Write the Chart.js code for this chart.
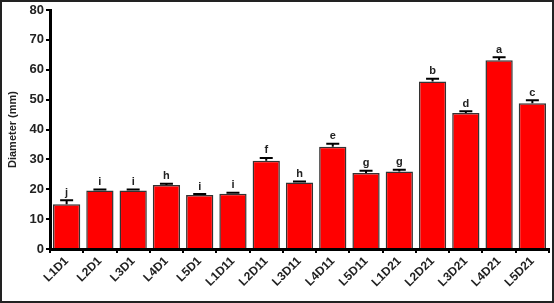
<!DOCTYPE html>
<html>
<head>
<meta charset="utf-8">
<script src="https://cdn.jsdelivr.net/npm/chart.js@4.4.1/dist/chart.umd.min.js"></script>
<style>
  html, body { margin: 0; padding: 0; background: #fff; }
  #wrap { width: 554px; height: 303px; position: relative; }
</style>
</head>
<body>
<div id="wrap"><canvas id="chartDiameter" width="554" height="303"></canvas></div>
<script>
// data
const labels = ['L1D1', 'L2D1', 'L3D1', 'L4D1', 'L5D1', 'L1D11', 'L2D11', 'L3D11', 'L4D11', 'L5D11', 'L1D21', 'L2D21', 'L3D21', 'L4D21', 'L5D21'];
const diameter = [15, 19.6, 19.6, 21.4, 18.1, 18.5, 29.5, 22.3, 34.2, 25.4, 25.9, 56.1, 45.5, 63.2, 48.8];
const errors = [1.3, 0.3, 0.3, 0.4, 0.3, 0.3, 1.0, 0.3, 1.0, 0.8, 0.6, 0.9, 0.6, 1.0, 1.0];
const letters = ['j', 'i', 'i', 'h', 'i', 'i', 'f', 'h', 'e', 'g', 'g', 'b', 'd', 'a', 'c'];
const yTicks = [0, 10, 20, 30, 40, 50, 60, 70, 80];

const FONT = '"Liberation Sans", Arial, sans-serif';

// error bars + significance letters
const errorBarPlugin = {
    id: 'errorBars',
    afterDatasetsDraw(chart) {
        const ctx = chart.ctx;
        const y = chart.scales.y;
        const meta = chart.getDatasetMeta(0);
        ctx.save();
        ctx.strokeStyle = '#000';
        ctx.lineWidth = 2;
        meta.data.forEach(function (bar, i) {
            const yv = y.getPixelForValue(diameter[i]);
            const yt = y.getPixelForValue(diameter[i] + errors[i]);
            ctx.beginPath();
            ctx.moveTo(bar.x, yv);
            ctx.lineTo(bar.x, yt);
            ctx.moveTo(bar.x - 6.5, yt);
            ctx.lineTo(bar.x + 6.5, yt);
            ctx.stroke();
            ctx.fillStyle = '#222';
            ctx.font = 'bold 11px ' + FONT;
            ctx.textAlign = 'center';
            ctx.textBaseline = 'bottom';
            ctx.fillText(letters[i], bar.x, yt - 2);
        });
        ctx.restore();
    },
    afterDraw(chart) {
        // dark frame round the picture
        const ctx = chart.ctx;
        ctx.save();
        ctx.strokeStyle = '#222';
        ctx.lineWidth = 2;
        ctx.strokeRect(1, 1, chart.width - 2, chart.height - 2);
        ctx.restore();
    }
};

new Chart(document.getElementById('chartDiameter'), {
    type: 'bar',
    data: {
        labels: labels,
        datasets: [{
            label: 'Diameter',
            data: diameter,
            backgroundColor: '#ff0000',
            borderColor: '#333',
            borderWidth: 1.5,
            barPercentage: 0.82,
            categoryPercentage: 1
        }]
    },
    options: {
        responsive: false,
        animation: false,
        layout: { padding: { top: 10, right: 5, left: 0, bottom: 0 } },
        plugins: { legend: { display: false }, tooltip: { enabled: false } },
        scales: {
            x: {
                border: { color: '#000', width: 3 },
                grid: { drawOnChartArea: false, drawTicks: true, tickLength: 4, color: '#000', lineWidth: 2 },
                ticks: {
                    minRotation: 45, maxRotation: 45, padding: 1,
                    color: '#222',
                    font: { family: FONT, size: 12, weight: 'bold' }
                },
                afterFit(scale) { scale.height = 54; }
            },
            y: {
                min: 0, max: 80,
                afterBuildTicks(scale) { scale.ticks = yTicks.map(v => ({ value: v })); },
                border: { color: '#000', width: 3 },
                grid: { drawOnChartArea: false, drawTicks: true, tickLength: 4, color: '#000', lineWidth: 2 },
                ticks: {
                    padding: 2,
                    color: '#222',
                    font: { family: FONT, size: 13, weight: 'bold' }
                },
                title: {
                    display: true,
                    text: 'Diameter (mm)',
                    color: '#222',
                    padding: { top: 6, bottom: 0 },
                    font: { family: FONT, size: 11, weight: 'bold' }
                },
                afterFit(scale) { scale.width = 50; }
            }
        }
    },
    plugins: [errorBarPlugin]
});
</script>
</body>
</html>
